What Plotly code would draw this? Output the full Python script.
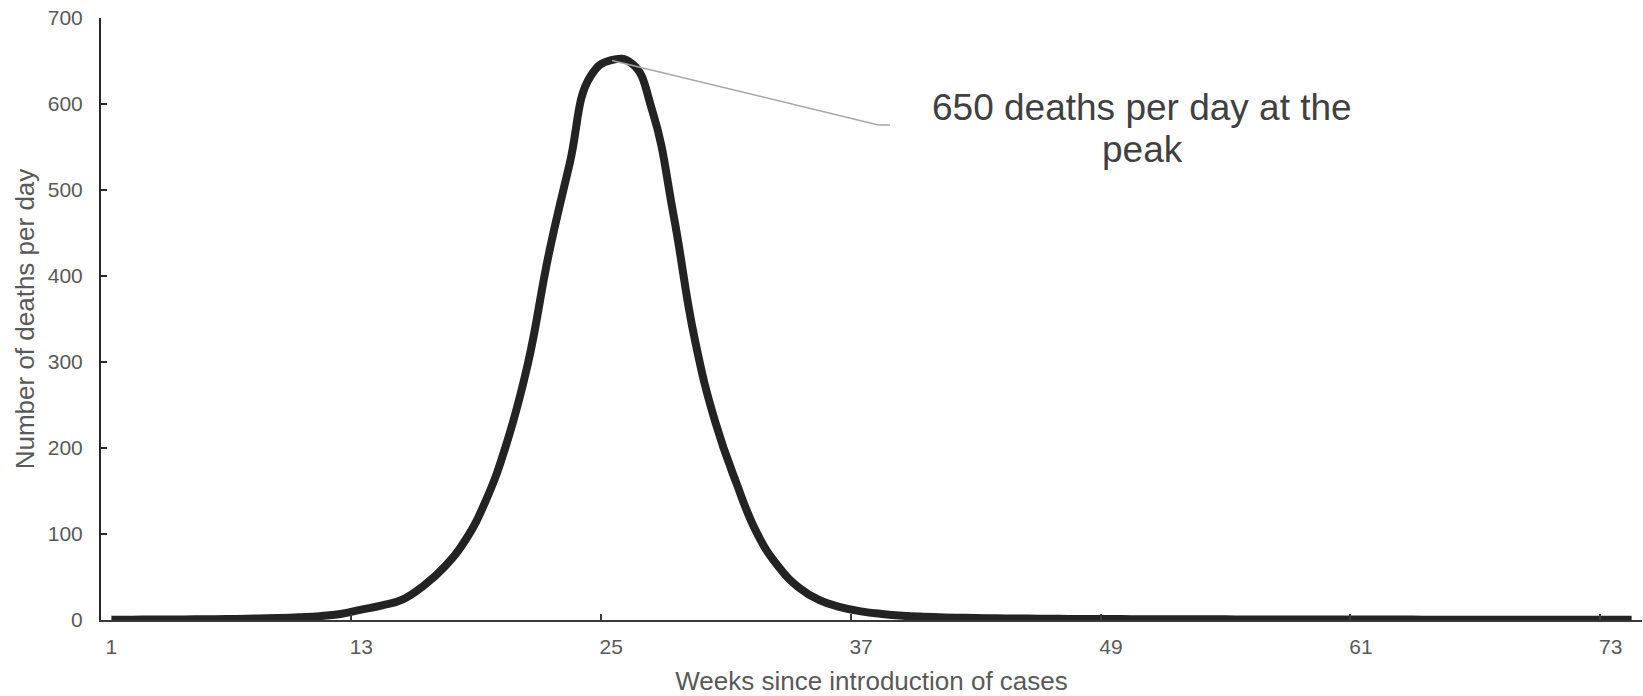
import plotly.graph_objects as go

# ---- data ----
weeks = list(range(1, 75))
deaths = [0.3, 0.4, 0.5, 0.6, 0.8, 1.0, 1.3, 1.7, 2.3, 3.2,        # 1-10
          4.5, 7, 12, 17, 24, 40, 62, 93, 140, 207,                # 11-20
          298, 425, 530, 632, 651, 647, 590, 470, 328, 230,        # 21-30
          160, 101, 63, 38, 23, 15, 10, 7, 5, 3.8,                 # 31-40
          3, 2.5, 2.1, 1.8, 1.6, 1.4, 1.3, 1.2, 1.1, 1.0,          # 41-50
          0.9, 0.9, 0.8, 0.8, 0.7, 0.7, 0.6, 0.6, 0.6, 0.5,        # 51-60
          0.5, 0.5, 0.5, 0.4, 0.4, 0.4, 0.4, 0.4, 0.3, 0.3,        # 61-70
          0.3, 0.3, 0.3, 0.3]                                      # 71-74

tick_weeks = [1, 13, 25, 37, 49, 61, 73]
tick_labels = ["1", "13", "25", "37", "49", "61", "73"]
boundary_ticks = [12.5, 24.5, 36.5, 48.5, 60.5, 72.5]

callout_x = [25.04, 37.83, 38.39]
callout_y = [650.5, 575.6, 575.6]
callout_lines = ["650 deaths per day at the", "peak"]
callout_text_x = 50.5
callout_text_y = [596, 547]

x_title = "Weeks since introduction of cases"
y_title = "Number of deaths per day"

FONT = "Liberation Sans, Arial, sans-serif"

fig = go.Figure()
fig.add_trace(go.Scatter(
    x=weeks, y=deaths, mode="lines",
    line=dict(color="#232323", width=8, shape="spline", smoothing=1.3),
    hoverinfo="skip", showlegend=False,
))
fig.add_trace(go.Scatter(
    x=callout_x, y=callout_y, mode="lines",
    line=dict(color="#A6A6A6", width=1.5),
    hoverinfo="skip", showlegend=False,
))

for txt, ty in zip(callout_lines, callout_text_y):
    fig.add_annotation(
        x=callout_text_x, y=ty, xref="x", yref="y", text=txt,
        showarrow=False, xanchor="center", yanchor="middle",
        font=dict(family=FONT, size=37, color="#404040"),
    )

fig.update_layout(
    width=1643, height=696,
    margin=dict(l=101, r=1, t=18, b=76),
    plot_bgcolor="white", paper_bgcolor="white",
    font=dict(family=FONT, color="#595959"),
    showlegend=False,
)

fig.update_xaxes(
    range=[0.5, 74.5],
    tickmode="array", tickvals=tick_weeks, ticktext=tick_labels,
    ticks="", showgrid=False, zeroline=False,
    showline=True, linecolor="#3a3a3a", linewidth=1.5,
    tickfont=dict(family=FONT, size=21, color="#595959"),
    ticklabelstandoff=7,
    minor=dict(tickmode="array", tickvals=boundary_ticks, ticks="inside",
               ticklen=6, tickcolor="#3a3a3a", tickwidth=1.5, showgrid=False),
    title=dict(text=x_title, font=dict(family=FONT, size=26, color="#595959"), standoff=16),
)
fig.update_yaxes(
    range=[0, 700], tickmode="linear", tick0=0, dtick=100,
    ticks="inside", ticklen=6, tickcolor="#262626", tickwidth=2,
    showgrid=False, zeroline=False,
    showline=True, linecolor="#262626", linewidth=2,
    tickfont=dict(family=FONT, size=21, color="#595959"),
    ticklabelstandoff=12,
    title=dict(text=y_title, font=dict(family=FONT, size=26, color="#595959"), standoff=6),
)

fig.write_html("out.html", config={"displayModeBar": False},
               post_script="document.body.style.margin='0';document.body.style.overflow='hidden';")
